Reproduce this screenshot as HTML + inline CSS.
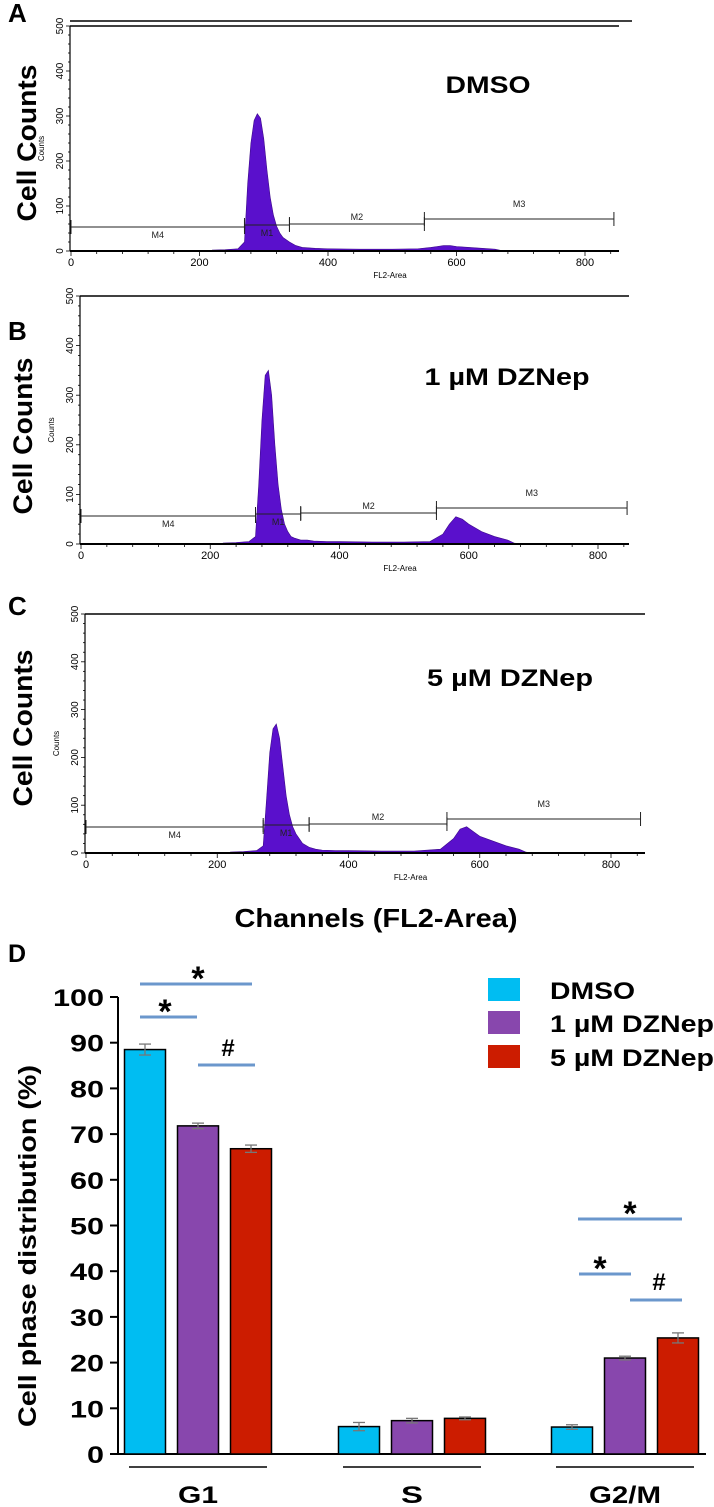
<!DOCTYPE html>
<html><head><meta charset="utf-8">
<style>
html,body{margin:0;padding:0;background:#fff;}
svg{display:block;font-family:"Liberation Sans",sans-serif;}
</style></head>
<body>
<svg id="fig" width="714" height="1507" viewBox="0 0 714 1507" xmlns="http://www.w3.org/2000/svg"></svg>
<script>
// ---- Histogram data (channel bins and counts) ----
const histChannels = [220,240,260,270,275,280,285,290,295,300,305,310,315,320,325,330,340,350,360,380,400,450,500,540,560,570,580,590,600,620,640,660,670,680];
const countsDMSO   = [2,3,5,20,150,240,290,305,295,250,180,120,80,55,40,30,20,12,8,6,5,4,4,5,8,10,12,12,10,8,6,4,1,0];
const counts1uM    = [2,3,5,15,120,250,340,350,300,200,120,70,40,25,15,12,8,8,6,5,5,4,4,5,20,40,55,50,40,25,15,8,2,0];
const counts5uM    = [2,3,5,15,110,210,260,270,240,180,120,80,55,40,30,20,12,8,6,5,5,4,4,8,30,50,55,45,35,25,15,8,2,0];
const histXTicks = [0,200,400,600,800];
const histYTicks = [0,100,200,300,400,500];
const markerNames = ["M4","M1","M2","M3"];
const markerStarts = [0,270,340,550];
const markerEnds = [270,340,550,845];

// ---- Bar chart data ----
const phases = ["G1","S","G2/M"];
const treatments = ["DMSO","1 µM DZNep","5 µM DZNep"];
const valsDMSO = [88.5,6.0,5.9];
const vals1uM  = [71.8,7.3,21.0];
const vals5uM  = [66.8,7.8,25.4];
const errDMSO = [1.2,0.9,0.5];
const err1uM  = [0.6,0.5,0.4];
const err5uM  = [0.8,0.3,1.1];
const barYTicks = [0,10,20,30,40,50,60,70,80,90,100];

const NS="http://www.w3.org/2000/svg";
const svg=document.getElementById('fig');
function el(tag,attrs,parent){const e=document.createElementNS(NS,tag);for(const k in attrs)e.setAttribute(k,attrs[k]);(parent||svg).appendChild(e);return e;}
function txt(s,attrs,parent){const e=el('text',attrs,parent);e.textContent=s;return e;}

// ---- Histogram panels ----
const panels=[
 {letter:"A",title:"DMSO",tlen:85,counts:countsDMSO,x0:71,x800:585,right:619,top:26,base:251,extraTop:21,mY:[227,225,224,219],titleX:488,titleY:93,letterY:22,ccX:36,ccY:143},
 {letter:"B",title:"1 µM DZNep",tlen:165,counts:counts1uM,x0:81,x800:598,right:629,top:296,base:544,extraTop:null,mY:[516,514,513,508],titleX:507,titleY:385,letterY:340,ccX:32,ccY:436},
 {letter:"C",title:"5 µM DZNep",tlen:166,counts:counts5uM,x0:86,x800:611,right:645,top:614,base:853,extraTop:null,mY:[827,825,824,819],titleX:510,titleY:686,letterY:615,ccX:32,ccY:728}
];
panels.forEach((p,pi)=>{
  const g=el('g',{});
  
  
  const xs=ch=>p.x0+(p.x800-p.x0)*ch/800;
  const ys=c=>p.base-(p.base-p.top)*c/500;
  const L=txt(p.letter,{x:8,y:p.letterY,'font-size':26,'font-weight':'bold'},g);
  
  
  const cc=txt("Cell Counts",{x:0,y:0,'font-size':27,'font-weight':'bold','text-anchor':'middle',textLength:157,lengthAdjust:'spacingAndGlyphs',transform:`translate(${p.ccX},${p.ccY}) rotate(-90)`},g);
  
  
  let pts=[xs(histChannels[0])+','+ys(0)];
  histChannels.forEach((c,i)=>{pts.push(xs(c)+','+ys(p.counts[i]));});
  pts.push(xs(histChannels[histChannels.length-1])+','+ys(0));
  const poly=el('polygon',{points:pts.join(' '),fill:'#5a10cc',stroke:'#3d0a8a','stroke-width':0.6},g);
  
  
  el('line',{x1:p.x0-1,y1:p.top,x2:p.x0-1,y2:p.base,stroke:'#000','stroke-width':1.2},g);
  el('line',{x1:p.x0-1,y1:p.base,x2:p.right,y2:p.base,stroke:'#000','stroke-width':2},g);
  el('line',{x1:p.x0-1,y1:p.top,x2:p.right,y2:p.top,stroke:'#000','stroke-width':1.5},g);
  if(p.extraTop!==null) el('line',{x1:p.x0-1,y1:p.extraTop,x2:632,y2:p.extraTop,stroke:'#000','stroke-width':1.5},g);
  for(let v=0;v<=500;v+=20){el('line',{x1:p.x0-1-(v%100==0?4:2),y1:ys(v),x2:p.x0-1,y2:ys(v),stroke:'#000','stroke-width':0.8},g);}
  histYTicks.forEach(v=>{txt(String(v),{x:0,y:0,'font-size':10,'text-anchor':'middle',transform:`translate(${p.x0-8},${ys(v)}) rotate(-90)`},g);});
  txt("Counts",{x:0,y:0,'font-size':8,'text-anchor':'middle',transform:`translate(${p.x0-27},${(p.top+p.base)/2+10}) rotate(-90)`},g);
  for(let v=0;v<=840;v+=40){el('line',{x1:xs(v),y1:p.base,x2:xs(v),y2:p.base+(v%200==0?5:3),stroke:'#000','stroke-width':0.8},g);}
  histXTicks.forEach(v=>{txt(String(v),{x:xs(v),y:p.base+15,'font-size':11,'text-anchor':'middle'},g);});
  txt("FL2-Area",{x:(p.x0+p.right)/2+45,y:p.base+27,'font-size':8,'text-anchor':'middle'},g);
  markerNames.forEach((m,i)=>{
    const y=p.mY[i],a=xs(markerStarts[i]),b=xs(markerEnds[i]);
    const mg=el('g',{},g);
    
    
    el('line',{x1:a,y1:y,x2:b,y2:y,stroke:'#222','stroke-width':1},mg);
    el('line',{x1:a,y1:y-7,x2:a,y2:y+7,stroke:'#222','stroke-width':1},mg);
    el('line',{x1:b,y1:y-7,x2:b,y2:y+7,stroke:'#222','stroke-width':1},mg);
    const above=(m=="M2"||m=="M3");
    txt(m,{x:(a+b)/2,y:above?y-(m=="M3"?12:4):y+11,'font-size':9,'text-anchor':'middle',fill:'#222'},mg);
  });
  const t=txt(p.title,{x:p.titleX,y:p.titleY,'font-size':24,'font-weight':'bold','text-anchor':'middle',textLength:p.tlen,lengthAdjust:'spacingAndGlyphs'},g);
  
  
});
const ch=txt("Channels (FL2-Area)",{x:376,y:927,'font-size':26,'font-weight':'bold','text-anchor':'middle',textLength:283,lengthAdjust:'spacingAndGlyphs'});



// ---- Bar chart ----
const bg=el('g',{});


const yB=v=>1454-v*4.57;
const axX=118;
const dl=txt("D",{x:8,y:962,'font-size':25,'font-weight':'bold'},bg);


const yt=txt("Cell phase distribution (%)",{x:0,y:0,'font-size':25,'font-weight':'bold','text-anchor':'middle',textLength:362,lengthAdjust:'spacingAndGlyphs',transform:`translate(36,1246) rotate(-90)`},bg);


el('line',{x1:axX,y1:yB(100),x2:axX,y2:yB(0),stroke:'#000','stroke-width':2},bg);
el('line',{x1:axX,y1:yB(0),x2:706,y2:yB(0),stroke:'#000','stroke-width':2},bg);
barYTicks.forEach(v=>{
  el('line',{x1:axX-8,y1:yB(v),x2:axX,y2:yB(v),stroke:'#000','stroke-width':2},bg);
  const s=String(v);
  const tl=txt(s,{x:axX-14,y:yB(v)+9,'font-size':24,'font-weight':'bold','text-anchor':'end',textLength:s.length*17,lengthAdjust:'spacingAndGlyphs'},bg);
  
  
});
const colors=['#00bdf2','#8847ad','#cc1c00'];
const series=[valsDMSO,vals1uM,vals5uM];
const errs=[errDMSO,err1uM,err5uM];
const groupCenters=[198,412,625];
const catLens=[40,22,72];
const bw=41,step=53;
phases.forEach((ph,gi)=>{
  series.forEach((vals,si)=>{
    const cx=groupCenters[gi]+(si-1)*step;
    const r=el('rect',{x:cx-bw/2,y:yB(vals[gi]),width:bw,height:yB(0)-yB(vals[gi]),fill:colors[si],stroke:'#000','stroke-width':1.5},bg);
    
    
    const e=errs[si][gi];
    el('line',{x1:cx,y1:yB(vals[gi]+e),x2:cx,y2:yB(vals[gi]-e),stroke:'#777','stroke-width':1.3},bg);
    el('line',{x1:cx-6,y1:yB(vals[gi]+e),x2:cx+6,y2:yB(vals[gi]+e),stroke:'#777','stroke-width':1.3},bg);
    el('line',{x1:cx-6,y1:yB(vals[gi]-e),x2:cx+6,y2:yB(vals[gi]-e),stroke:'#777','stroke-width':1.3},bg);
  });
  el('line',{x1:groupCenters[gi]-69,y1:1467,x2:groupCenters[gi]+69,y2:1467,stroke:'#000','stroke-width':1.5},bg);
  const xl=txt(ph,{x:groupCenters[gi],y:1503,'font-size':24,'font-weight':'bold','text-anchor':'middle',textLength:catLens[gi],lengthAdjust:'spacingAndGlyphs'},bg);
  
  
});
const sig=[[140,252,984,"*",198,982],[140,197,1017,"*",165,1015],[198,255,1065,"#",228,1056],
           [578,682,1219,"*",630,1217],[579,631,1274,"*",600,1272],[630,682,1300,"#",659,1290]];
sig.forEach(s=>{
  const sg=el('g',{},bg);
  
  
  el('line',{x1:s[0],y1:s[2],x2:s[1],y2:s[2],stroke:'#6b97cc','stroke-width':3},sg);
  txt(s[3],{x:s[4],y:s[5]+(s[3]=="*"?8:0),'font-size':s[3]=="*"?34:24,'font-weight':'bold','text-anchor':'middle'},sg);
});
const legY=[978,1011,1045];
const legLens=[85,164,164];
treatments.forEach((t,i)=>{
  const lg=el('g',{},bg);
  
  
  el('rect',{x:488,y:legY[i],width:32,height:23,fill:colors[i]},lg);
  txt(t,{x:550,y:legY[i]+21,'font-size':24,'font-weight':'bold',textLength:legLens[i],lengthAdjust:'spacingAndGlyphs'},lg);
});
</script>
</body></html>
